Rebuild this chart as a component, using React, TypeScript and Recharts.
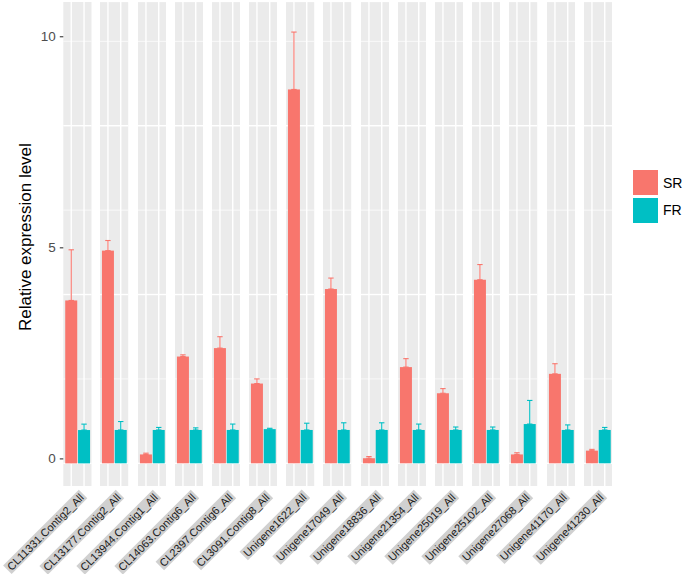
import React from 'react';
import { BarChart, Bar, Cell, ErrorBar, XAxis, YAxis, CartesianGrid } from 'recharts';

const genes = [
  'CL11331.Contig2_All',
  'CL13177.Contig2_All',
  'CL13944.Contig1_All',
  'CL14063.Contig6_All',
  'CL2397.Contig6_All',
  'CL3091.Contig8_All',
  'Unigene1622_All',
  'Unigene17049_All',
  'Unigene18836_All',
  'Unigene21354_All',
  'Unigene25019_All',
  'Unigene25102_All',
  'Unigene27068_All',
  'Unigene41170_All',
  'Unigene41230_All',
];
const treatments = ['SR', 'FR'];
const srMean = [3.86, 5.04, 0.21, 2.53, 2.73, 1.89, 8.86, 4.13, 0.12, 2.28, 1.66, 4.35, 0.21, 2.12, 0.3];
const srSe = [1.2, 0.24, 0.03, 0.04, 0.27, 0.11, 1.36, 0.26, 0.04, 0.2, 0.11, 0.36, 0.04, 0.24, 0.03];
const frMean = [0.79, 0.79, 0.79, 0.79, 0.79, 0.81, 0.79, 0.79, 0.79, 0.79, 0.79, 0.79, 0.93, 0.79, 0.79];
const frSe = [0.14, 0.2, 0.06, 0.05, 0.14, 0.02, 0.16, 0.17, 0.17, 0.14, 0.07, 0.07, 0.56, 0.12, 0.06];
const yTicks = [0, 5, 10];
const majorGrid = [0, 4, 8];
const minorGrid = [2, 6, 10];
const yDomain = [-0.54, 10.93];

const colors: Record<string, string> = { SR: '#F8766D', FR: '#00BFC4' };
const FONT = '"Liberation Sans", Arial, Helvetica, sans-serif';

const PANEL_LEFT = 63.3;
const PANEL_STEP = 37.17;
const PANEL_W = 28.2;
const PANEL_TOP = 2;
const PANEL_H = 484.2;

const facetData = genes.map((gene, i) => [
  { treatment: 'SR', value: srMean[i], srErr: [0, srSe[i]] },
  { treatment: 'FR', value: frMean[i], frErr: [0, frSe[i]] },
]);

// bar with the white x grid line of its band drawn just behind it
const GridBar = (props: any) => {
  const { x, y, width, height, fill, background } = props;
  const cx = x + width / 2;
  const top = background && Number.isFinite(background.y) ? background.y : PANEL_TOP;
  const bottom =
    background && Number.isFinite(background.height) ? background.y + background.height : PANEL_TOP + PANEL_H;
  return (
    <g>
      <line x1={cx} x2={cx} y1={top} y2={bottom} stroke="#FFFFFF" strokeWidth={1.4} />
      <rect x={x} y={y} width={width} height={height} fill={fill} />
    </g>
  );
};

const YTick = (props: any) => {
  const { y, payload } = props;
  const yy = y - 4.5;
  return (
    <g>
      <line x1={PANEL_LEFT - 3.5} x2={PANEL_LEFT} y1={yy} y2={yy} stroke="#333333" strokeWidth={1.1} />
      <text
        x={PANEL_LEFT - 7.5}
        y={yy}
        textAnchor="end"
        dominantBaseline="central"
        fill="#4D4D4D"
        fontSize={13.5}
        fontFamily={FONT}
      >
        {payload.value}
      </text>
    </g>
  );
};

const YTitle = (props: any) => {
  const { viewBox } = props;
  const cy = viewBox.y + viewBox.height / 2 - 7;
  return (
    <text
      transform={`translate(31, ${cy}) rotate(-90)`}
      textAnchor="middle"
      fill="#000000"
      fontSize={17}
      fontFamily={FONT}
    >
      Relative expression level
    </text>
  );
};

const Facet = ({ data, withAxis }: { data: any[]; withAxis: boolean }) => {
  const axisW = withAxis ? PANEL_LEFT : 0;
  return (
    <BarChart
      width={axisW + PANEL_W}
      height={PANEL_TOP + PANEL_H}
      data={data}
      margin={{ top: PANEL_TOP, right: 0, bottom: 0, left: 0 }}
      barCategoryGap="5%"
    >
      <CartesianGrid
        fill="#EBEBEB"
        fillOpacity={1}
        stroke="#FFFFFF"
        strokeWidth={1.4}
        vertical={false}
        horizontalValues={majorGrid}
      />
      <CartesianGrid stroke="#FFFFFF" strokeWidth={0.7} vertical={false} horizontalValues={minorGrid} />
      <XAxis
        dataKey="treatment"
        height={0}
        tick={false}
        tickLine={false}
        axisLine={{ stroke: '#DCDCDC', strokeWidth: 2 }}
        padding={{ left: 1.3, right: 1.3 }}
      />
      <YAxis
        type="number"
        domain={yDomain}
        ticks={yTicks}
        hide={!withAxis}
        width={axisW}
        axisLine={false}
        tickLine={false}
        tick={<YTick />}
        label={withAxis ? { content: <YTitle /> } : undefined}
      />
      <Bar dataKey="value" isAnimationActive={false} shape={<GridBar />}>
        {data.map((d) => (
          <Cell key={d.treatment} fill={colors[d.treatment]} />
        ))}
        <ErrorBar dataKey="srErr" direction="y" width={2.7} stroke={colors.SR} strokeWidth={1.1} />
        <ErrorBar dataKey="frErr" direction="y" width={2.7} stroke={colors.FR} strokeWidth={1.1} />
      </Bar>
    </BarChart>
  );
};

export default function App() {
  return (
    <div
      style={{
        position: 'absolute',
        left: 0,
        top: 0,
        width: 685,
        height: 574,
        background: '#FFFFFF',
        overflow: 'hidden',
        fontFamily: FONT,
      }}
    >
      {facetData.map((data, i) => (
        <div
          key={genes[i]}
          style={{ position: 'absolute', top: 0, left: i === 0 ? 0 : PANEL_LEFT + PANEL_STEP * i }}
        >
          <Facet data={data} withAxis={i === 0} />
        </div>
      ))}

      {genes.map((gene, i) => {
        const anchorX = PANEL_LEFT + PANEL_STEP * i + PANEL_W / 2 + 5.6;
        return (
          <div
            key={gene + '-strip'}
            style={{
              position: 'absolute',
              right: 685 - anchorX,
              top: 493.7 - 6,
              height: 12,
              lineHeight: '12px',
              padding: '0 2px',
              background: '#D0D0D0',
              color: '#1A1A1A',
              fontSize: 11,
              whiteSpace: 'nowrap',
              transformOrigin: 'right center',
              transform: 'rotate(-45deg)',
            }}
          >
            {gene}
          </div>
        );
      })}

      <div style={{ position: 'absolute', left: 633, top: 169 }}>
        {treatments.map((t) => (
          <div key={t} style={{ display: 'flex', alignItems: 'center', height: 27.6 }}>
            <span style={{ display: 'inline-block', width: 25, height: 25, background: colors[t] }} />
            <span style={{ marginLeft: 5, fontSize: 14, color: '#000000' }}>{t}</span>
          </div>
        ))}
      </div>
    </div>
  );
}
